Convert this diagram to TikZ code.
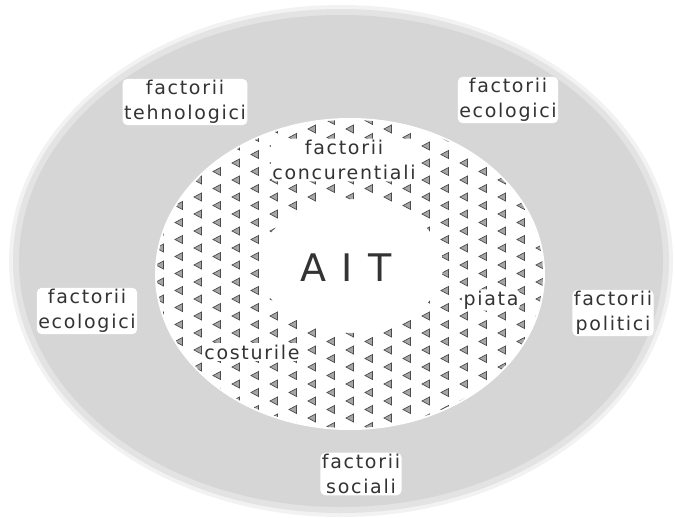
\documentclass[tikz,border=0pt]{standalone}
\usepackage{fontspec}
\newfontfamily\lblfamily[LetterSpace=9]{DejaVu Sans}
\usepackage{tikz}
\usetikzlibrary{positioning}
\usepackage{xcolor}

\begin{document}
\begin{tikzpicture}[x=1pt,y=-1pt,
    lbl/.style={font=\lblfamily\fontsize{19}{25}\selectfont, align=center,
      text=black!80, fill=white, rounded corners=5pt, inner sep=1.5pt},
    tri/.style={draw=black!70, fill=gray!70, line width=0.7pt}]
  \useasboundingbox (0,0) rectangle (675,517);

  % outer ring (environment)
  \fill[gray!10] (341,261) ellipse (332 and 256);
  \fill[gray!22] (341,261) ellipse (328 and 252);
  \fill[gray!32] (341,261) ellipse (322 and 246);

  % inner ring (competition)
  \fill[white] (350,274) ellipse (195 and 156);
  \begin{scope}[even odd rule]
    \clip (350,274) ellipse (193 and 154) (351,266) ellipse (92 and 67);
    \foreach \i in {0,...,21} {
      \foreach \j in {0,...,19} {
        \pgfmathsetmacro{\tx}{160+\i*19}
        \pgfmathsetmacro{\ty}{112+\j*17+mod(\i,2)*8.5}
        \draw[tri] (\tx-4,\ty) -- (\tx+3.5,\ty-4) -- (\tx+3.5,\ty+4) -- cycle;
      }
    }
  \end{scope}

  % labels
  \node[lbl] (tehno) at (185,102) {factorii\\tehnologici};
  \node[lbl] (ecotop) at (508,100) {factorii\\ecologici};
  \node[lbl] (concur) at (344,160) {factorii\\concurentiali};
  \node[lbl] (ecoleft) at (87,311) {factorii\\ecologici};
  \node[lbl] (polit) at (613,313) {factorii\\politici};
  \node[lbl] (piata) at (491,300) {piata};
  \node[lbl] (cost) at (252,352) {costurile};
  \node[lbl] (social) at (361,474) {factorii\\sociali};
  \node[font=\lblfamily\fontsize{38}{40}\selectfont, text=black!80] (ait) at (346,268) {A I T};
\end{tikzpicture}
\end{document}
